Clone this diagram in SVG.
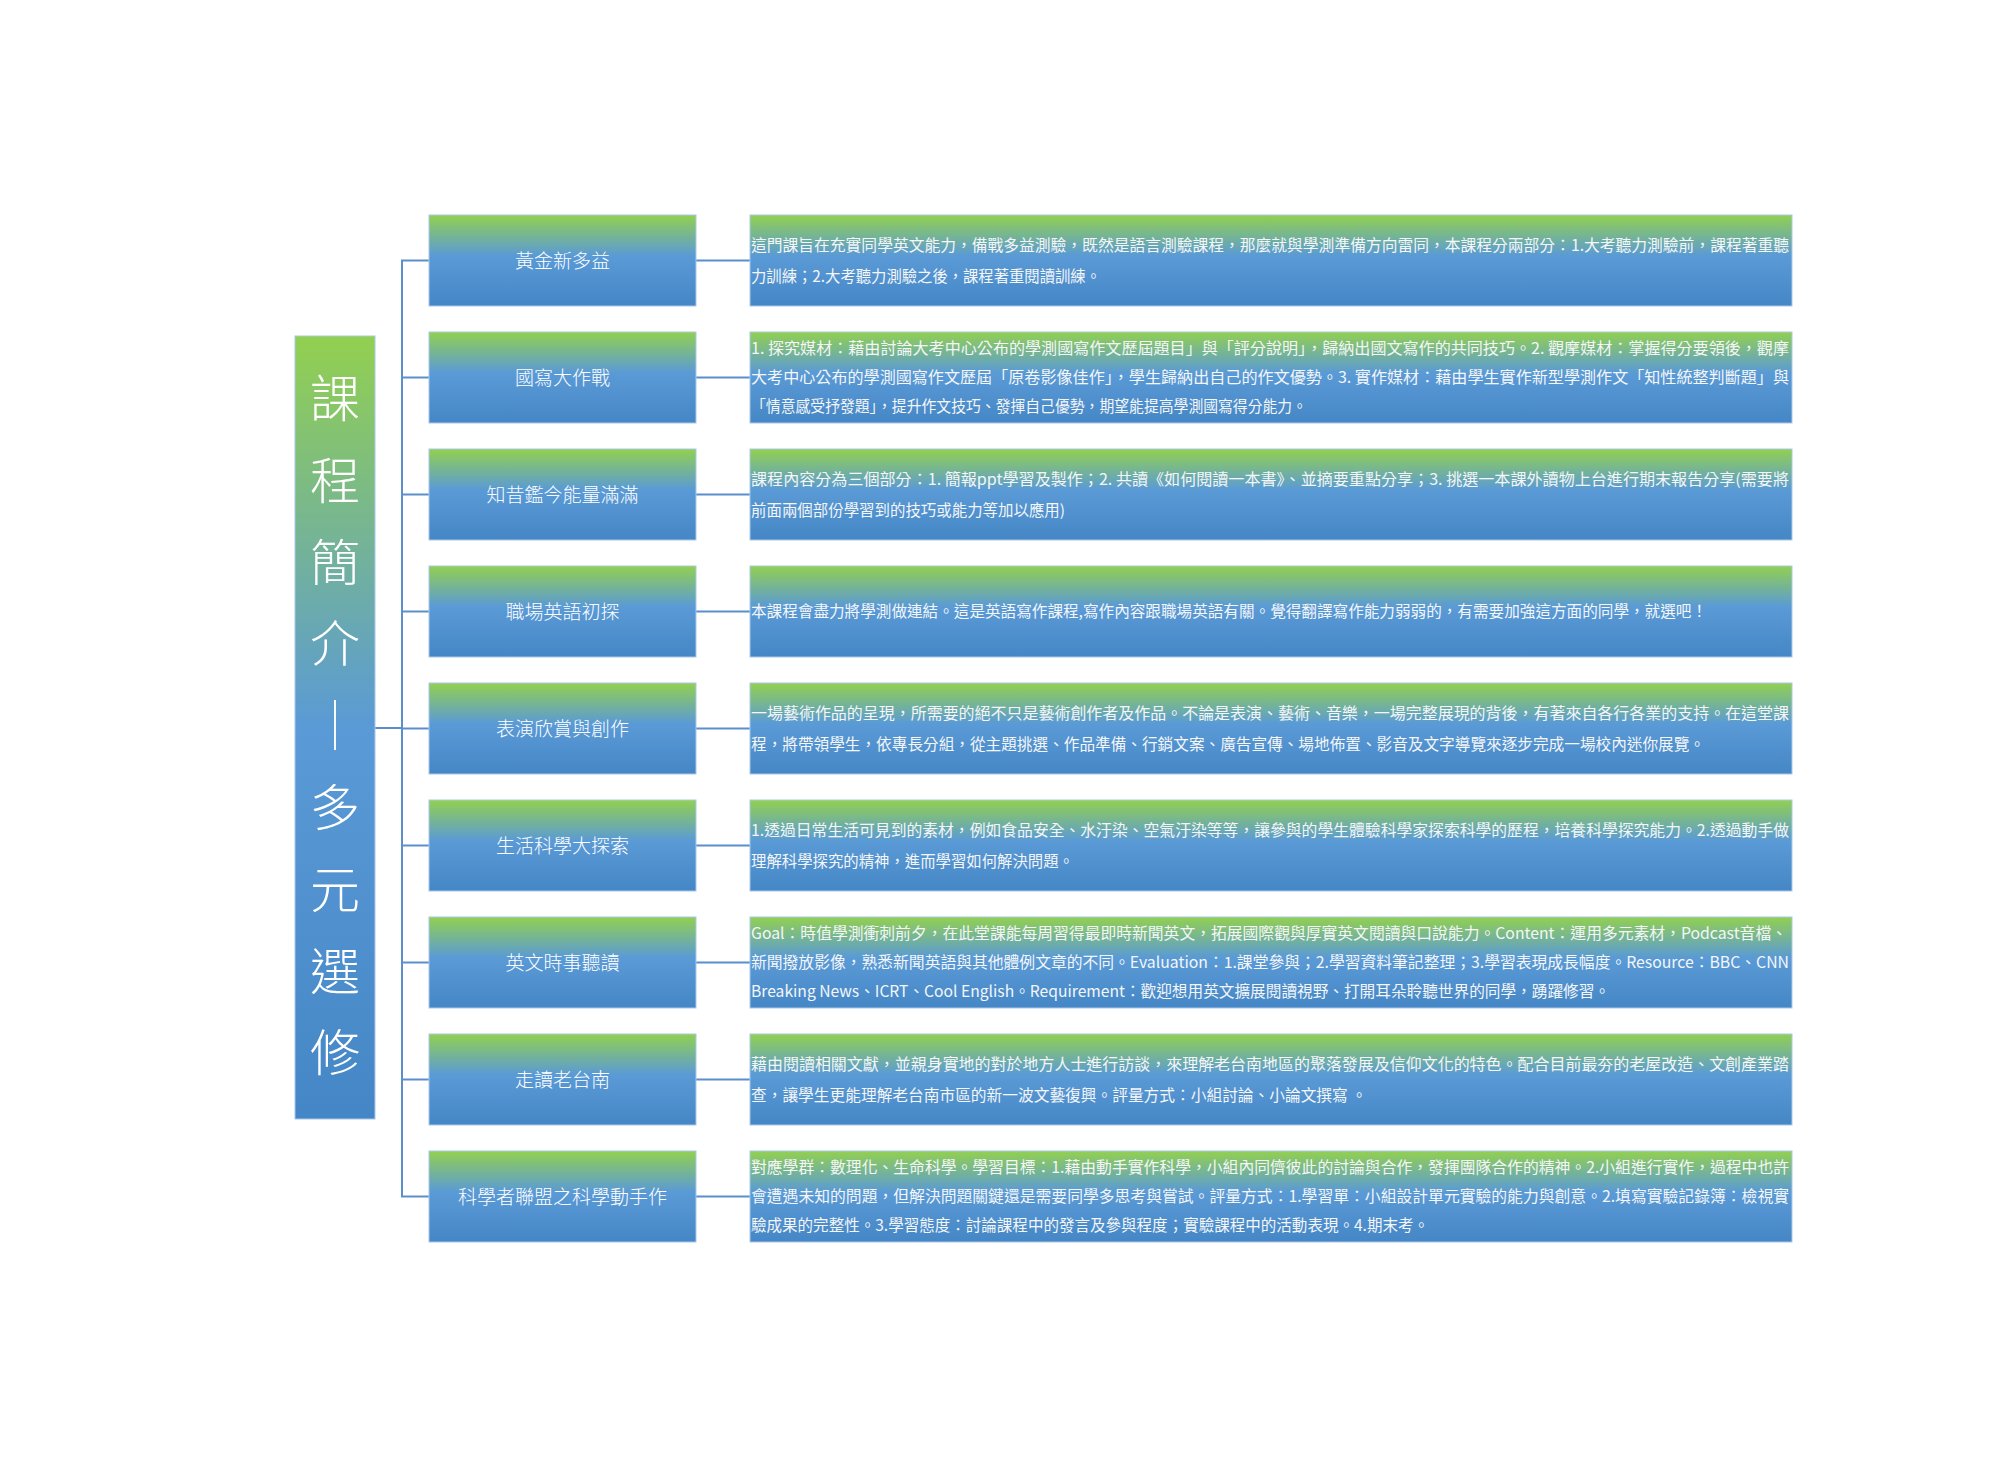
<svg xmlns="http://www.w3.org/2000/svg" width="2000" height="1467" viewBox="0 0 2000 1467">
<defs>
<linearGradient id="gNode" x1="0" y1="0" x2="0" y2="1">
<stop offset="0" stop-color="#92D050"/>
<stop offset="0.45" stop-color="#5A9AD6"/>
<stop offset="1" stop-color="#4586C6"/>
</linearGradient>
<linearGradient id="gTitle" x1="0" y1="0" x2="0" y2="1">
<stop offset="0" stop-color="#92D050"/>
<stop offset="0.5" stop-color="#5A9AD6"/>
<stop offset="1" stop-color="#4586C6"/>
</linearGradient>
<style>
.box{fill:url(#gNode);stroke:#A9C8EA;stroke-width:1}
.tbox{fill:url(#gTitle);stroke:#A9C8EA;stroke-width:1}
.lbl{font-family:"Noto Sans CJK TC","Noto Sans CJK SC",sans-serif;font-size:19px;fill:#FFFFFF;text-anchor:middle;font-weight:300}
.ttl{font-family:"Noto Sans CJK TC","Noto Sans CJK SC",sans-serif;font-size:50px;fill:#FFFFFF;text-anchor:middle;font-weight:300}
.d{font-family:"Noto Sans CJK TC","Noto Sans CJK SC",sans-serif;font-size:15.5px;fill:#F4F6F8}
.c{stroke:#5B8FCB;stroke-width:2;fill:none}
</style>
</defs>
<rect width="2000" height="1467" fill="#FFFFFF"/>

<g id="connectors">
<line class="c" x1="375" y1="728" x2="402" y2="728"/>
<line class="c" x1="402" y1="260.5" x2="402" y2="1196.5"/>
<line class="c" x1="401" y1="260.5" x2="429" y2="260.5"/>
<line class="c" x1="401" y1="377.5" x2="429" y2="377.5"/>
<line class="c" x1="401" y1="494.5" x2="429" y2="494.5"/>
<line class="c" x1="401" y1="611.5" x2="429" y2="611.5"/>
<line class="c" x1="401" y1="728.5" x2="429" y2="728.5"/>
<line class="c" x1="401" y1="845.5" x2="429" y2="845.5"/>
<line class="c" x1="401" y1="962.5" x2="429" y2="962.5"/>
<line class="c" x1="401" y1="1079.5" x2="429" y2="1079.5"/>
<line class="c" x1="401" y1="1196.5" x2="429" y2="1196.5"/>
<line class="c" x1="696" y1="260.5" x2="750" y2="260.5"/>
<line class="c" x1="696" y1="377.5" x2="750" y2="377.5"/>
<line class="c" x1="696" y1="494.5" x2="750" y2="494.5"/>
<line class="c" x1="696" y1="611.5" x2="750" y2="611.5"/>
<line class="c" x1="696" y1="728.5" x2="750" y2="728.5"/>
<line class="c" x1="696" y1="845.5" x2="750" y2="845.5"/>
<line class="c" x1="696" y1="962.5" x2="750" y2="962.5"/>
<line class="c" x1="696" y1="1079.5" x2="750" y2="1079.5"/>
<line class="c" x1="696" y1="1196.5" x2="750" y2="1196.5"/>
</g>

<g id="title">
<rect class="tbox" x="295" y="336" width="80" height="783"/>
<text class="ttl" x="335" y="417">課</text>
<text class="ttl" x="335" y="499">程</text>
<text class="ttl" x="335" y="581">簡</text>
<text class="ttl" x="335" y="662">介</text>
<text class="ttl" x="335" y="744">｜</text>
<text class="ttl" x="335" y="826">多</text>
<text class="ttl" x="335" y="908">元</text>
<text class="ttl" x="335" y="990">選</text>
<text class="ttl" x="335" y="1071">修</text>
</g>

<g id="n1">
<rect class="box" x="429" y="215" width="267" height="91"/>
<text class="lbl" x="562.5" y="267.5">黃金新多益</text>
</g>
<g id="d1">
<rect class="box" x="750" y="215" width="1042" height="91"/>
<text class="d" x="751" y="250.5" textLength="1038" lengthAdjust="spacingAndGlyphs">這門課旨在充實同學英文能力，備戰多益測驗，既然是語言測驗課程，那麼就與學測準備方向雷同，本課程分兩部分：1.大考聽力測驗前，課程著重聽</text>
<text class="d" x="751" y="281.5" textLength="350" lengthAdjust="spacingAndGlyphs">力訓練；2.大考聽力測驗之後，課程著重閱讀訓練。</text>
</g>

<g id="n2">
<rect class="box" x="429" y="332" width="267" height="91"/>
<text class="lbl" x="562.5" y="384.5">國寫大作戰</text>
</g>
<g id="d2">
<rect class="box" x="750" y="332" width="1042" height="91"/>
<text class="d" x="751" y="354" textLength="1038" lengthAdjust="spacingAndGlyphs">1. 探究媒材：藉由討論大考中心公布的學測國寫作文歷屆題目」與「評分說明」，歸納出國文寫作的共同技巧。2. 觀摩媒材：掌握得分要領後，觀摩</text>
<text class="d" x="751" y="383" textLength="1038" lengthAdjust="spacingAndGlyphs">大考中心公布的學測國寫作文歷屆「原卷影像佳作」，學生歸納出自己的作文優勢。3. 實作媒材：藉由學生實作新型學測作文「知性統整判斷題」與</text>
<text class="d" x="751" y="412" textLength="556" lengthAdjust="spacingAndGlyphs">「情意感受抒發題」，提升作文技巧、發揮自己優勢，期望能提高學測國寫得分能力。</text>
</g>

<g id="n3">
<rect class="box" x="429" y="449" width="267" height="91"/>
<text class="lbl" x="562.5" y="501.5">知昔鑑今能量滿滿</text>
</g>
<g id="d3">
<rect class="box" x="750" y="449" width="1042" height="91"/>
<text class="d" x="751" y="484.5" textLength="1038" lengthAdjust="spacingAndGlyphs">課程內容分為三個部分：1. 簡報ppt學習及製作；2. 共讀《如何閱讀一本書》、並摘要重點分享；3. 挑選一本課外讀物上台進行期末報告分享(需要將</text>
<text class="d" x="751" y="515.5" textLength="314" lengthAdjust="spacingAndGlyphs">前面兩個部份學習到的技巧或能力等加以應用)</text>
</g>

<g id="n4">
<rect class="box" x="429" y="566" width="267" height="91"/>
<text class="lbl" x="562.5" y="618.5">職場英語初探</text>
</g>
<g id="d4">
<rect class="box" x="750" y="566" width="1042" height="91"/>
<text class="d" x="751" y="617" textLength="956" lengthAdjust="spacingAndGlyphs">本課程會盡力將學測做連結。這是英語寫作課程,寫作內容跟職場英語有關。覺得翻譯寫作能力弱弱的，有需要加強這方面的同學，就選吧！</text>
</g>

<g id="n5">
<rect class="box" x="429" y="683" width="267" height="91"/>
<text class="lbl" x="562.5" y="735.5">表演欣賞與創作</text>
</g>
<g id="d5">
<rect class="box" x="750" y="683" width="1042" height="91"/>
<text class="d" x="751" y="718.5" textLength="1038" lengthAdjust="spacingAndGlyphs">一場藝術作品的呈現，所需要的絕不只是藝術創作者及作品。不論是表演、藝術、音樂，一場完整展現的背後，有著來自各行各業的支持。在這堂課</text>
<text class="d" x="751" y="749.5" textLength="954" lengthAdjust="spacingAndGlyphs">程，將帶領學生，依專長分組，從主題挑選、作品準備、行銷文案、廣告宣傳、場地佈置、影音及文字導覽來逐步完成一場校內迷你展覽。</text>
</g>

<g id="n6">
<rect class="box" x="429" y="800" width="267" height="91"/>
<text class="lbl" x="562.5" y="852.5">生活科學大探索</text>
</g>
<g id="d6">
<rect class="box" x="750" y="800" width="1042" height="91"/>
<text class="d" x="751" y="835.5" textLength="1038" lengthAdjust="spacingAndGlyphs">1.透過日常生活可見到的素材，例如食品安全、水汙染、空氣汙染等等，讓參與的學生體驗科學家探索科學的歷程，培養科學探究能力。2.透過動手做</text>
<text class="d" x="751" y="866.5" textLength="323" lengthAdjust="spacingAndGlyphs">理解科學探究的精神，進而學習如何解決問題。</text>
</g>

<g id="n7">
<rect class="box" x="429" y="917" width="267" height="91"/>
<text class="lbl" x="562.5" y="969.5">英文時事聽讀</text>
</g>
<g id="d7">
<rect class="box" x="750" y="917" width="1042" height="91"/>
<text class="d" x="751" y="939" textLength="1036" lengthAdjust="spacingAndGlyphs">Goal：時值學測衝刺前夕，在此堂課能每周習得最即時新聞英文，拓展國際觀與厚實英文閱讀與口說能力。Content：運用多元素材，Podcast音檔、</text>
<text class="d" x="751" y="968" textLength="1038" lengthAdjust="spacingAndGlyphs">新聞撥放影像，熟悉新聞英語與其他體例文章的不同。Evaluation：1.課堂參與；2.學習資料筆記整理；3.學習表現成長幅度。Resource：BBC、CNN</text>
<text class="d" x="751" y="997" textLength="859" lengthAdjust="spacingAndGlyphs">Breaking News、ICRT、Cool  English。Requirement：歡迎想用英文擴展閱讀視野、打開耳朵聆聽世界的同學，踴躍修習。</text>
</g>

<g id="n8">
<rect class="box" x="429" y="1034" width="267" height="91"/>
<text class="lbl" x="562.5" y="1086.5">走讀老台南</text>
</g>
<g id="d8">
<rect class="box" x="750" y="1034" width="1042" height="91"/>
<text class="d" x="751" y="1069.5" textLength="1038" lengthAdjust="spacingAndGlyphs">藉由閱讀相關文獻，並親身實地的對於地方人士進行訪談，來理解老台南地區的聚落發展及信仰文化的特色。配合目前最夯的老屋改造、文創產業踏</text>
<text class="d" x="751" y="1100.5" textLength="616" lengthAdjust="spacingAndGlyphs">查，讓學生更能理解老台南市區的新一波文藝復興。評量方式：小組討論、小論文撰寫  。</text>
</g>

<g id="n9">
<rect class="box" x="429" y="1151" width="267" height="91"/>
<text class="lbl" x="562.5" y="1203.5">科學者聯盟之科學動手作</text>
</g>
<g id="d9">
<rect class="box" x="750" y="1151" width="1042" height="91"/>
<text class="d" x="751" y="1172.5" textLength="1038" lengthAdjust="spacingAndGlyphs">對應學群：數理化、生命科學。學習目標：1.藉由動手實作科學，小組內同儕彼此的討論與合作，發揮團隊合作的精神。2.小組進行實作，過程中也許</text>
<text class="d" x="751" y="1201.5" textLength="1038" lengthAdjust="spacingAndGlyphs">會遭遇未知的問題，但解決問題關鍵還是需要同學多思考與嘗試。評量方式：1.學習單：小組設計單元實驗的能力與創意。2.填寫實驗記錄簿：檢視實</text>
<text class="d" x="751" y="1230.5" textLength="678" lengthAdjust="spacingAndGlyphs">驗成果的完整性。3.學習態度：討論課程中的發言及參與程度；實驗課程中的活動表現。4.期末考。</text>
</g>
</svg>
